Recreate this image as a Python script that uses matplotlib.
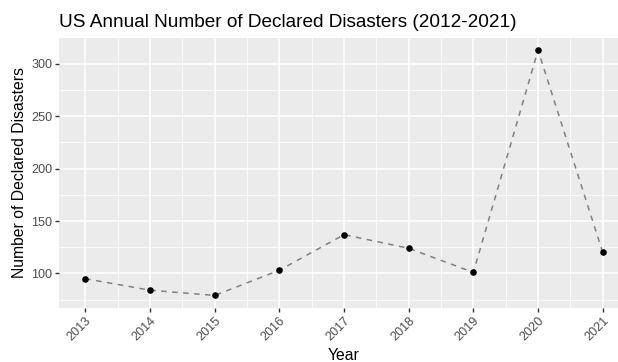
import matplotlib
matplotlib.use("Agg")
import matplotlib.pyplot as plt
from matplotlib.ticker import MultipleLocator

plt.rcParams['font.family'] = ['Liberation Sans', 'DejaVu Sans']

years = [2013, 2014, 2015, 2016, 2017, 2018, 2019, 2020, 2021]
disasters = [95, 84, 79, 103, 137, 124, 101, 313, 120]
year_labels = [str(y) for y in years]
y_ticks = [100, 150, 200, 250, 300]

W, H = 618, 362
fig = plt.figure(figsize=(W / 100, H / 100), dpi=100)
fig.patch.set_facecolor('white')

# panel spans past the right edge of the canvas
left_px, right_px, top_px, bottom_px = 59.4, 628.6, 38.0, 307.7
ax = fig.add_axes([left_px / W, 1 - bottom_px / H,
                   (right_px - left_px) / W, (bottom_px - top_px) / H])
ax.set_facecolor('#EBEBEB')
for s in ax.spines.values():
    s.set_visible(False)

ax.set_xlim(2012.6, 2021.4)
ax.set_ylim(67.3, 324.7)

ax.set_xticks(years)
ax.set_xticklabels(year_labels)
ax.xaxis.set_minor_locator(MultipleLocator(0.5))
ax.set_yticks(y_ticks)
ax.yaxis.set_minor_locator(MultipleLocator(25))

ax.grid(which='major', color='white', linewidth=1.1)
ax.grid(which='minor', color='white', linewidth=0.55)
ax.set_axisbelow(True)

ax.tick_params(which='major', length=3.0, width=1.0, color='#333333',
               labelsize=9.1, labelcolor='#4D4D4D', pad=2.2)
ax.tick_params(which='minor', length=0)
for lbl in ax.get_xticklabels():
    lbl.set_rotation(45)
    lbl.set_ha('right')
    lbl.set_va('top')
    lbl.set_rotation_mode('anchor')

ax.plot(years, disasters, linestyle=(0, (3.6, 3.6)), color='#808080', linewidth=1.1, zorder=2)
ax.scatter(years, disasters, s=14, color='black', zorder=3)

ax.set_xlabel('Year', fontsize=11.3, color='black', labelpad=3)
ax.set_ylabel('Number of Declared Disasters', fontsize=11.3, color='black', labelpad=3)
fig.text(left_px / W, 1 - 26.7 / H, 'US Annual Number of Declared Disasters (2012-2021)',
         fontsize=13.7, color='black', ha='left', va='baseline')

fig.savefig('out.png', dpi=100)
